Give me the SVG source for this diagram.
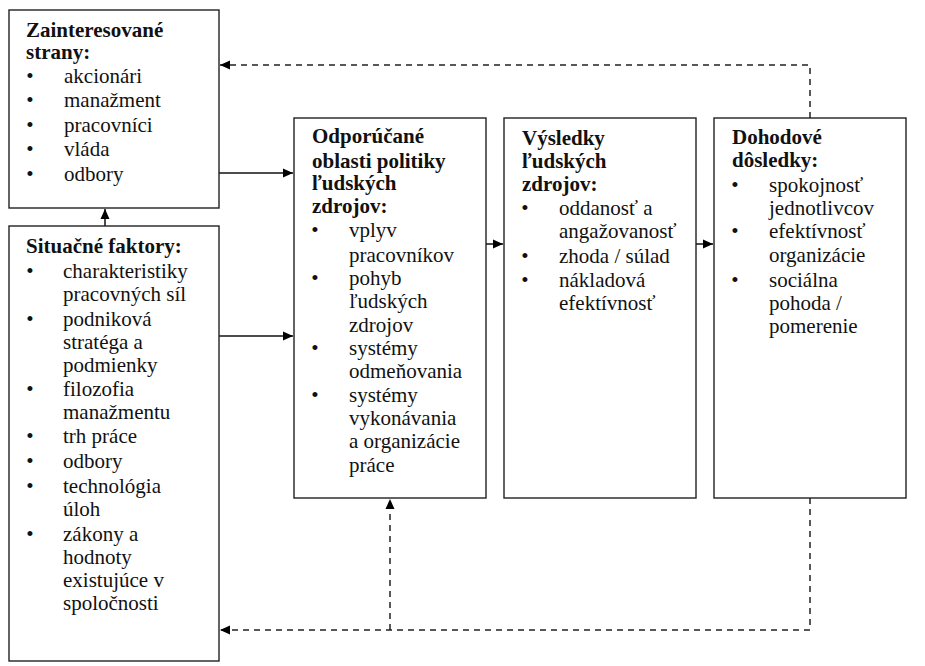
<svg xmlns="http://www.w3.org/2000/svg" width="925" height="666" viewBox="0 0 925 666">
<defs>
<marker id="ah" viewBox="0 0 10 10" refX="10" refY="5" markerWidth="10" markerHeight="10" markerUnits="userSpaceOnUse" orient="auto">
<path d="M0,0.5 L10,5 L0,9.5 Z" fill="#000"/>
</marker>
</defs>
<rect width="925" height="666" fill="#fff"/>
<g id="connectors" fill="none" stroke="#111" stroke-width="1.5">
<line x1="105" y1="226" x2="105" y2="209" marker-end="url(#ah)"/>
<line x1="219" y1="173" x2="293" y2="173" marker-end="url(#ah)"/>
<line x1="219" y1="336" x2="293" y2="336" marker-end="url(#ah)"/>
<line x1="486" y1="244" x2="503" y2="244" marker-end="url(#ah)"/>
<line x1="696" y1="244" x2="713" y2="244" marker-end="url(#ah)"/>
<g stroke-dasharray="6 5" stroke="#222">
<polyline points="810,118 810,65 220,65" marker-end="url(#ah)"/>
<polyline points="810,498 810,630 220,630" marker-end="url(#ah)"/>
<line x1="390" y1="630" x2="390" y2="499" marker-end="url(#ah)"/>
</g>
</g>
<g id="zainteresovane" fill="#111" font-family="Liberation Serif, serif" font-size="21">
<rect fill="#fff" stroke="#222" stroke-width="1.4" x="9" y="10" width="210" height="198"/>
<text style="font-family:'Liberation Serif',serif" font-weight="bold" x="26" y="37">Zainteresované</text>
<text style="font-family:'Liberation Serif',serif" font-weight="bold" x="26" y="59">strany:</text>
<text style="font-family:'Liberation Serif',serif" text-anchor="middle" x="30" y="83">•</text><text style="font-family:'Liberation Serif',serif" x="64" y="83">akcionári</text>
<text style="font-family:'Liberation Serif',serif" text-anchor="middle" x="30" y="107">•</text><text style="font-family:'Liberation Serif',serif" x="64" y="107">manažment</text>
<text style="font-family:'Liberation Serif',serif" text-anchor="middle" x="30" y="132">•</text><text style="font-family:'Liberation Serif',serif" x="64" y="132">pracovníci</text>
<text style="font-family:'Liberation Serif',serif" text-anchor="middle" x="30" y="156">•</text><text style="font-family:'Liberation Serif',serif" x="64" y="156">vláda</text>
<text style="font-family:'Liberation Serif',serif" text-anchor="middle" x="30" y="181">•</text><text style="font-family:'Liberation Serif',serif" x="64" y="181">odbory</text>
</g>
<g id="situacne" fill="#111" font-family="Liberation Serif, serif" font-size="21">
<rect fill="#fff" stroke="#222" stroke-width="1.4" x="9" y="226" width="210" height="435"/>
<text style="font-family:'Liberation Serif',serif" font-weight="bold" x="26" y="253">Situačné faktory:</text>
<text style="font-family:'Liberation Serif',serif" text-anchor="middle" x="30" y="278">•</text><text style="font-family:'Liberation Serif',serif" x="63" y="278">charakteristiky</text>
<text style="font-family:'Liberation Serif',serif" x="63" y="301">pracovných síl</text>
<text style="font-family:'Liberation Serif',serif" text-anchor="middle" x="30" y="326">•</text><text style="font-family:'Liberation Serif',serif" x="63" y="326">podniková</text>
<text style="font-family:'Liberation Serif',serif" x="63" y="349">stratéga a</text>
<text style="font-family:'Liberation Serif',serif" x="63" y="372">podmienky</text>
<text style="font-family:'Liberation Serif',serif" text-anchor="middle" x="30" y="396">•</text><text style="font-family:'Liberation Serif',serif" x="63" y="396">filozofia</text>
<text style="font-family:'Liberation Serif',serif" x="63" y="419">manažmentu</text>
<text style="font-family:'Liberation Serif',serif" text-anchor="middle" x="30" y="443">•</text><text style="font-family:'Liberation Serif',serif" x="63" y="443">trh práce</text>
<text style="font-family:'Liberation Serif',serif" text-anchor="middle" x="30" y="468">•</text><text style="font-family:'Liberation Serif',serif" x="63" y="468">odbory</text>
<text style="font-family:'Liberation Serif',serif" text-anchor="middle" x="30" y="493">•</text><text style="font-family:'Liberation Serif',serif" x="63" y="493">technológia</text>
<text style="font-family:'Liberation Serif',serif" x="63" y="516">úloh</text>
<text style="font-family:'Liberation Serif',serif" text-anchor="middle" x="30" y="541">•</text><text style="font-family:'Liberation Serif',serif" x="63" y="541">zákony a</text>
<text style="font-family:'Liberation Serif',serif" x="63" y="564">hodnoty</text>
<text style="font-family:'Liberation Serif',serif" x="63" y="587">existujúce v</text>
<text style="font-family:'Liberation Serif',serif" x="63" y="610">spoločnosti</text>
</g>
<g id="odporucane" fill="#111" font-family="Liberation Serif, serif" font-size="21">
<rect fill="#fff" stroke="#222" stroke-width="1.4" x="294" y="118" width="192" height="380"/>
<text style="font-family:'Liberation Serif',serif" font-weight="bold" x="312" y="143">Odporúčané</text>
<text style="font-family:'Liberation Serif',serif" font-weight="bold" x="312" y="168">oblasti politiky</text>
<text style="font-family:'Liberation Serif',serif" font-weight="bold" x="312" y="190">ľudských</text>
<text style="font-family:'Liberation Serif',serif" font-weight="bold" x="312" y="213">zdrojov:</text>
<text style="font-family:'Liberation Serif',serif" text-anchor="middle" x="315" y="237">•</text><text style="font-family:'Liberation Serif',serif" x="349" y="237">vplyv</text>
<text style="font-family:'Liberation Serif',serif" x="349" y="262">pracovníkov</text>
<text style="font-family:'Liberation Serif',serif" text-anchor="middle" x="315" y="285">•</text><text style="font-family:'Liberation Serif',serif" x="349" y="285">pohyb</text>
<text style="font-family:'Liberation Serif',serif" x="349" y="308">ľudských</text>
<text style="font-family:'Liberation Serif',serif" x="349" y="332">zdrojov</text>
<text style="font-family:'Liberation Serif',serif" text-anchor="middle" x="315" y="355">•</text><text style="font-family:'Liberation Serif',serif" x="349" y="355">systémy</text>
<text style="font-family:'Liberation Serif',serif" x="349" y="378">odmeňovania</text>
<text style="font-family:'Liberation Serif',serif" text-anchor="middle" x="315" y="402">•</text><text style="font-family:'Liberation Serif',serif" x="349" y="402">systémy</text>
<text style="font-family:'Liberation Serif',serif" x="349" y="425">vykonávania</text>
<text style="font-family:'Liberation Serif',serif" x="349" y="448">a organizácie</text>
<text style="font-family:'Liberation Serif',serif" x="349" y="472">práce</text>
</g>
<g id="vysledky" fill="#111" font-family="Liberation Serif, serif" font-size="21">
<rect fill="#fff" stroke="#222" stroke-width="1.4" x="504" y="118" width="192" height="380"/>
<text style="font-family:'Liberation Serif',serif" font-weight="bold" x="522" y="145">Výsledky</text>
<text style="font-family:'Liberation Serif',serif" font-weight="bold" x="522" y="168">ľudských</text>
<text style="font-family:'Liberation Serif',serif" font-weight="bold" x="522" y="191">zdrojov:</text>
<text style="font-family:'Liberation Serif',serif" text-anchor="middle" x="525" y="215">•</text><text style="font-family:'Liberation Serif',serif" x="559" y="215">oddanosť a</text>
<text style="font-family:'Liberation Serif',serif" x="559" y="238">angažovanosť</text>
<text style="font-family:'Liberation Serif',serif" text-anchor="middle" x="525" y="263">•</text><text style="font-family:'Liberation Serif',serif" x="559" y="263">zhoda / súlad</text>
<text style="font-family:'Liberation Serif',serif" text-anchor="middle" x="525" y="287">•</text><text style="font-family:'Liberation Serif',serif" x="559" y="287">nákladová</text>
<text style="font-family:'Liberation Serif',serif" x="559" y="310">efektívnosť</text>
</g>
<g id="dohodove" fill="#111" font-family="Liberation Serif, serif" font-size="21">
<rect fill="#fff" stroke="#222" stroke-width="1.4" x="714" y="118" width="192" height="380"/>
<text style="font-family:'Liberation Serif',serif" font-weight="bold" x="732" y="144">Dohodové</text>
<text style="font-family:'Liberation Serif',serif" font-weight="bold" x="732" y="167">dôsledky:</text>
<text style="font-family:'Liberation Serif',serif" text-anchor="middle" x="735" y="192">•</text><text style="font-family:'Liberation Serif',serif" x="769" y="192">spokojnosť</text>
<text style="font-family:'Liberation Serif',serif" x="769" y="215">jednotlivcov</text>
<text style="font-family:'Liberation Serif',serif" text-anchor="middle" x="735" y="238">•</text><text style="font-family:'Liberation Serif',serif" x="769" y="238">efektívnosť</text>
<text style="font-family:'Liberation Serif',serif" x="769" y="262">organizácie</text>
<text style="font-family:'Liberation Serif',serif" text-anchor="middle" x="735" y="287">•</text><text style="font-family:'Liberation Serif',serif" x="769" y="287">sociálna</text>
<text style="font-family:'Liberation Serif',serif" x="769" y="310">pohoda /</text>
<text style="font-family:'Liberation Serif',serif" x="769" y="333">pomerenie</text>
</g>
</svg>
